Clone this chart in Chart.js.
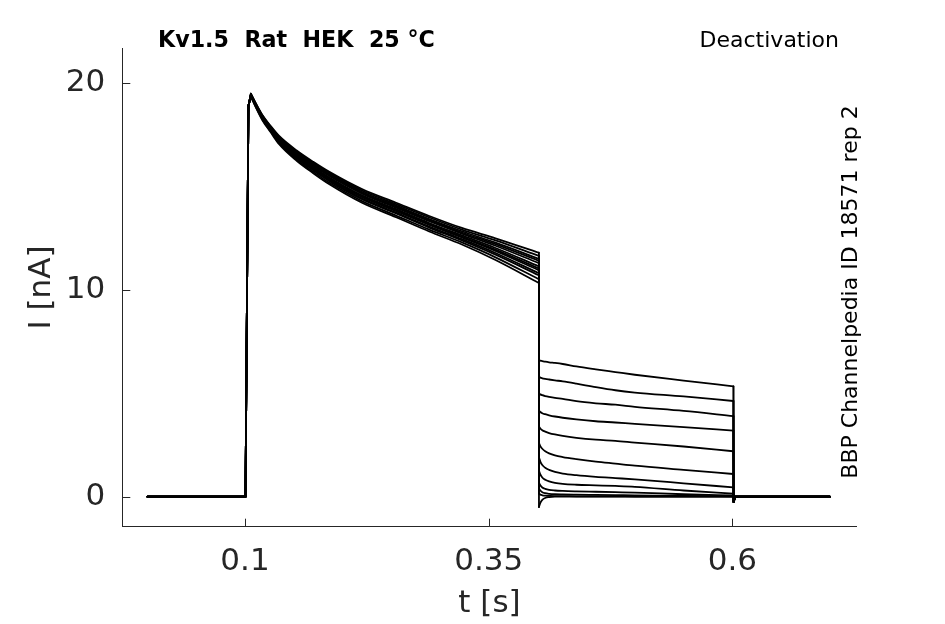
<!DOCTYPE html>
<html><head><meta charset="utf-8">
<script src="https://cdn.jsdelivr.net/npm/chart.js@4.4.1/dist/chart.umd.min.js"></script>
<style>html,body{margin:0;padding:0;background:#fff}#wrap{width:945px;height:624px}</style>
</head><body><div id="wrap"><canvas id="c" width="945" height="624"></canvas></div>
<script>
// ---- tick labels ----
const xTicks = [0.1, 0.35, 0.6];
const xTickLabels = ['0.1', '0.35', '0.6'];
const yTicks = [0, 10, 20];
const yTickLabels = ['0', '10', '20'];

// ---- time bases (s) ----
const baseT = [0, 0.1005];
const riseT = [0.1035];
const actT = [0.106, 0.112, 0.118, 0.126, 0.135, 0.153, 0.17, 0.187, 0.22, 0.255, 0.289, 0.3225, 0.357, 0.4015];
const tailT = [0.4016, 0.403, 0.405, 0.408, 0.412, 0.418, 0.426, 0.44, 0.46, 0.48, 0.5, 0.55, 0.601];
const endT = [0.6013, 0.603, 0.7];

// ---- currents (nA) ----
const baseI = [0, 0];
const riseI = [18.9];
const endI = [-0.25, 0, 0];

const act1  = [19.5, 18.95, 18.45, 17.95, 17.45, 16.75, 16.2, 15.7, 14.88, 14.22, 13.58, 13.0, 12.5, 11.8];
const act2  = [19.49, 18.93, 18.43, 17.92, 17.41, 16.7, 16.15, 15.64, 14.81, 14.15, 13.51, 12.92, 12.4, 11.65];
const act3  = [19.47, 18.91, 18.4, 17.89, 17.37, 16.65, 16.09, 15.58, 14.75, 14.08, 13.43, 12.84, 12.29, 11.51];
const act4  = [19.46, 18.9, 18.38, 17.87, 17.34, 16.62, 16.05, 15.54, 14.7, 14.03, 13.38, 12.78, 12.22, 11.41];
const act5  = [19.45, 18.88, 18.37, 17.85, 17.31, 16.58, 16.01, 15.5, 14.66, 13.98, 13.33, 12.73, 12.14, 11.3];
const act6  = [19.43, 18.86, 18.34, 17.82, 17.27, 16.53, 15.95, 15.43, 14.58, 13.91, 13.24, 12.64, 12.03, 11.14];
const act7  = [19.42, 18.85, 18.32, 17.79, 17.24, 16.49, 15.91, 15.39, 14.54, 13.86, 13.19, 12.58, 11.95, 11.04];
const act8  = [19.41, 18.83, 18.3, 17.78, 17.22, 16.46, 15.88, 15.35, 14.5, 13.81, 13.15, 12.54, 11.89, 10.95];
const act9  = [19.4, 18.81, 18.28, 17.75, 17.18, 16.41, 15.83, 15.29, 14.43, 13.74, 13.07, 12.46, 11.79, 10.81];
const act10 = [19.39, 18.8, 18.26, 17.73, 17.15, 16.38, 15.79, 15.25, 14.39, 13.7, 13.02, 12.4, 11.71, 10.71];
const act11 = [19.37, 18.77, 18.23, 17.69, 17.1, 16.31, 15.72, 15.17, 14.3, 13.6, 12.92, 12.3, 11.58, 10.52];
const act12 = [19.35, 18.75, 18.2, 17.65, 17.05, 16.25, 15.65, 15.1, 14.22, 13.52, 12.83, 12.2, 11.45, 10.34];

const tail1  = [6.6, 6.58, 6.56, 6.53, 6.5, 6.47, 6.42, 6.3, 6.16, 6.03, 5.9, 5.62, 5.34];
const tail2  = [5.8, 5.76, 5.73, 5.7, 5.67, 5.63, 5.58, 5.47, 5.3, 5.15, 5.04, 4.85, 4.63];
const tail3  = [5.0, 4.95, 4.91, 4.87, 4.83, 4.78, 4.73, 4.62, 4.52, 4.45, 4.35, 4.15, 3.9];
const tail4  = [4.17, 4.1, 4.04, 3.99, 3.94, 3.88, 3.82, 3.74, 3.65, 3.59, 3.52, 3.37, 3.2];
const tail5  = [3.4, 3.3, 3.22, 3.15, 3.08, 3.01, 2.94, 2.85, 2.76, 2.7, 2.62, 2.43, 2.2];
const tail6  = [2.6, 2.45, 2.32, 2.2, 2.1, 2.0, 1.92, 1.82, 1.7, 1.6, 1.5, 1.3, 1.1];
const tail7  = [1.9, 1.7, 1.53, 1.4, 1.3, 1.2, 1.12, 1.04, 0.96, 0.9, 0.84, 0.65, 0.45];
const tail8  = [1.26, 1.08, 0.93, 0.82, 0.74, 0.67, 0.62, 0.58, 0.55, 0.52, 0.48, 0.3, 0.15];
const tail9  = [0.68, 0.55, 0.45, 0.38, 0.33, 0.3, 0.28, 0.26, 0.24, 0.22, 0.2, 0.12, 0.06];
const tail10 = [0.4, 0.3, 0.22, 0.17, 0.14, 0.12, 0.11, 0.1, 0.09, 0.08, 0.07, 0.04, 0.02];
const tail11 = [0.15, 0.1, 0.07, 0.05, 0.04, 0.03, 0.03, 0.02, 0.02, 0.02, 0.01, 0.01, 0.0];
const tail12 = [-0.5, -0.3, -0.15, -0.06, -0.02, 0.0, 0.0, 0.0, 0.0, 0.0, 0.0, 0.0, 0.0];

const actSweeps = [act1, act2, act3, act4, act5, act6, act7, act8, act9, act10, act11, act12];
const tailSweeps = [tail1, tail2, tail3, tail4, tail5, tail6, tail7, tail8, tail9, tail10, tail11, tail12];

const titleText = 'Kv1.5  Rat  HEK  25 °C';
const protocolText = 'Deactivation';
const sourceText = 'BBP Channelpedia ID 18571 rep 2';
const xTitle = 't [s]';
const yTitle = 'I [nA]';

function seg(ts, vs) { return ts.map((t, i) => ({x: t, y: vs[i]})); }
function gap(t) { return {x: t, y: null}; }
function last(arr) { return arr[arr.length - 1]; }

const lineStyle = {borderColor: '#000', borderWidth: 1.8, pointRadius: 0, showLine: true, fill: false,
  borderCapStyle: 'round', borderJoinStyle: 'round', spanGaps: false};

const datasets = [];
actSweeps.forEach((a, k) => {
  const tl = tailSweeps[k];
  // smooth decays (activation and tail), separated by a gap
  datasets.push(Object.assign({}, lineStyle, {
    cubicInterpolationMode: 'monotone',
    data: [].concat(seg(actT, a), [gap(0.40155)], seg(tailT, tl))
  }));
  // steps: baseline + rise, the drop at the tail onset, the return to baseline
  datasets.push(Object.assign({}, lineStyle, {
    tension: 0,
    data: [].concat(seg(baseT, baseI), seg(riseT, riseI), [{x: actT[0], y: a[0]}, gap(0.2),
      {x: last(actT), y: last(a)}, {x: tailT[0], y: tl[0]}, gap(0.5),
      {x: last(tailT), y: last(tl)}], seg(endT, endI))
  }));
});

const decor = {
  id: 'decor',
  afterDraw(chart) {
    const ctx = chart.ctx, xs = chart.scales.x, ys = chart.scales.y, a = chart.chartArea;
    ctx.save();
    ctx.strokeStyle = '#262626'; ctx.lineWidth = 1;
    ctx.beginPath();
    xs.ticks.forEach(t => { const px = Math.round(xs.getPixelForValue(t.value)) + 0.5; ctx.moveTo(px, a.bottom); ctx.lineTo(px, a.bottom - 8); });
    ys.ticks.forEach(t => { const py = Math.round(ys.getPixelForValue(t.value)) + 0.5; ctx.moveTo(a.left, py); ctx.lineTo(a.left + 8, py); });
    ctx.stroke();
    ctx.fillStyle = '#000';
    ctx.textBaseline = 'alphabetic';
    ctx.font = 'bold 22.2px "DejaVu Sans"'; ctx.textAlign = 'left';
    ctx.fillText(titleText, 158, 47);
    ctx.font = '22px "DejaVu Sans"'; ctx.textAlign = 'right';
    ctx.fillText(protocolText, 839, 47);
    ctx.translate(856.5, 292); ctx.rotate(-Math.PI / 2); ctx.textAlign = 'center';
    ctx.fillText(sourceText, 0, 0);
    ctx.restore();
  }
};

const tickFont = {family: 'DejaVu Sans', size: 31};
new Chart(document.getElementById('c'), {
  type: 'scatter',
  data: {datasets},
  plugins: [decor],
  options: {
    responsive: false, animation: false, devicePixelRatio: 1,
    layout: {padding: {top: 48.3, right: 88.3, left: 0, bottom: 0}},
    plugins: {legend: {display: false}, tooltip: {enabled: false}, title: {display: false}},
    scales: {
      x: {
        type: 'linear', min: -0.0259, max: 0.7276,
        afterBuildTicks: s => { s.ticks = xTicks.map(v => ({value: v})); },
        afterFit: s => { s.height = 624 - 526.7; },
        ticks: {callback: (v, i) => xTickLabels[i], font: tickFont, color: '#262626', padding: 16.5, maxRotation: 0, autoSkip: false},
        grid: {display: false, drawTicks: false},
        border: {display: true, color: '#262626', width: 1},
        title: {display: true, text: xTitle, font: tickFont, color: '#262626', padding: {top: 0, bottom: 1}}
      },
      y: {
        type: 'linear', min: -1.45, max: 21.69,
        afterBuildTicks: s => { s.ticks = yTicks.map(v => ({value: v})); },
        afterFit: s => { s.width = 122.3; },
        ticks: {callback: (v, i) => yTickLabels[i], font: tickFont, color: '#262626', padding: 17, autoSkip: false},
        grid: {display: false, drawTicks: false},
        border: {display: true, color: '#262626', width: 1},
        title: {display: true, text: yTitle, font: tickFont, color: '#262626', padding: {top: 23, bottom: 0}}
      }
    }
  }
});
</script>
</body></html>
